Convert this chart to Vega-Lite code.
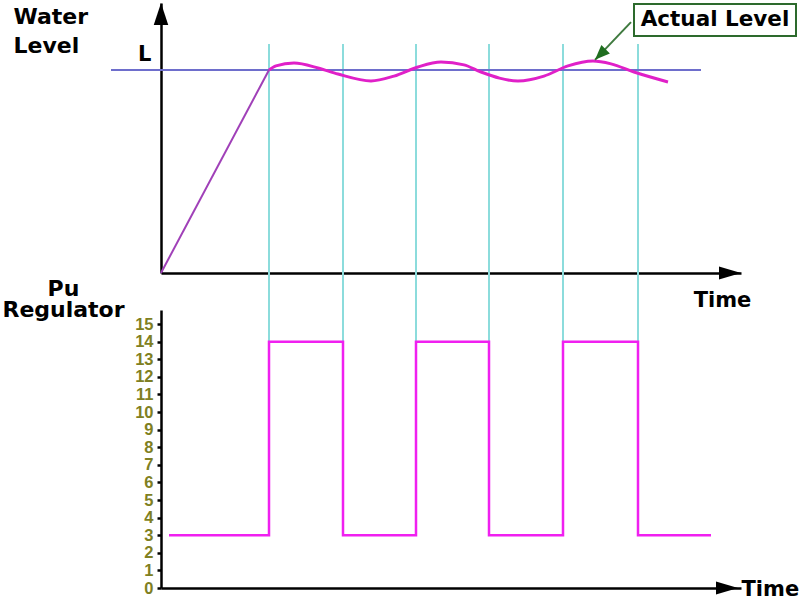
{
  "$schema": "https://vega.github.io/schema/vega-lite/v6.json",
  "autosize": {"type": "pad"},
  "padding": {"left": 1, "top": 3, "right": 0, "bottom": 0},
  "background": "white",
  "config": {"view": {"stroke": null}, "axis": {"grid": false}},
  "datasets": {
    "switches": [{"t": 10.8}, {"t": 18.2}, {"t": 25.5}, {"t": 32.8}, {"t": 40.2}, {"t": 47.7}],
    "setpoint": [{"t1": -5, "t2": 54, "v": 1}],
    "level": [
      {"t": 0, "v": 0, "part": "ramp"}, {"t": 10.8, "v": 1.0, "part": "ramp"},
      {"t": 10.8, "v": 1.0, "part": "wave"}, {"t": 11.5, "v": 1.02, "part": "wave"},
      {"t": 13.3, "v": 1.034, "part": "wave"}, {"t": 15.7, "v": 1.01, "part": "wave"},
      {"t": 17.7, "v": 0.98, "part": "wave"}, {"t": 21.0, "v": 0.946, "part": "wave"},
      {"t": 23.3, "v": 0.97, "part": "wave"}, {"t": 25.7, "v": 1.015, "part": "wave"},
      {"t": 28.0, "v": 1.039, "part": "wave"}, {"t": 30.3, "v": 1.025, "part": "wave"},
      {"t": 32.0, "v": 0.99, "part": "wave"}, {"t": 35.7, "v": 0.946, "part": "wave"},
      {"t": 38.3, "v": 0.97, "part": "wave"}, {"t": 40.7, "v": 1.02, "part": "wave"},
      {"t": 43.2, "v": 1.044, "part": "wave"}, {"t": 45.0, "v": 1.03, "part": "wave"},
      {"t": 47.3, "v": 0.99, "part": "wave"}, {"t": 50.7, "v": 0.941, "part": "wave"}
    ],
    "pump": [
      {"t": 0.8, "v": 3}, {"t": 10.8, "v": 14}, {"t": 18.2, "v": 3}, {"t": 25.5, "v": 14},
      {"t": 32.8, "v": 3}, {"t": 40.2, "v": 14}, {"t": 47.7, "v": 3}, {"t": 55, "v": 3}
    ],
    "topArrows": [{"t": 0, "v": 1.33, "dir": "up"}, {"t": 58, "v": 0, "dir": "right"}],
    "bottomArrows": [{"t": 57.7, "v": 0, "dir": "right"}],
    "callout": [{"t1": 47.3, "t2": 63.5, "v1": 1.167, "v2": 1.325, "tc": 55.4, "vc": 1.246, "label": "Actual Level", "at": 47.0, "av": 1.236, "bt": 43.4, "bv": 1.05}]
  },
  "spacing": 37,
  "bounds": "flush",
  "vconcat": [
    {
      "width": 580,
      "height": 270,
      "layer": [
        {
          "data": {"name": "switches"},
          "mark": {"type": "rule", "color": "#8cdcdc", "strokeWidth": 2},
          "encoding": {
            "x": {"field": "t", "type": "quantitative",
              "scale": {"domain": [0, 58], "nice": false, "zero": false},
              "axis": {"values": [], "domainColor": "black", "domainWidth": 2.5, "ticks": false, "labels": false,
                "title": "Time", "titleFont": "DejaVu Sans", "titleFontSize": 21, "titleFontWeight": "bold", "titleColor": "black",
                "titleAlign": "center", "titleBaseline": "alphabetic", "titleAnchor": "start", "titleX": 561, "titleY": 33}},
            "y": {"datum": 0, "type": "quantitative",
              "scale": {"domain": [0, 1.33], "nice": false},
              "axis": {"values": [1], "labelExpr": "'L'", "ticks": false, "labelFont": "DejaVu Sans", "labelFontSize": 21,
                "labelFontWeight": "bold", "labelColor": "black", "labelPadding": 10, "labelBaseline": "alphabetic", "labelOffset": -9,
                "domainColor": "black", "domainWidth": 2.5,
                "title": ["Water", "Level"], "titleFont": "DejaVu Sans", "titleFontSize": 22, "titleFontWeight": "bold",
                "titleColor": "black", "titleAngle": 0, "titleAlign": "left", "titleBaseline": "alphabetic",
                "titleX": -148, "titleY": 20, "titleLineHeight": 29}},
            "y2": {"datum": 1.128}
          }
        },
        {
          "data": {"name": "setpoint"},
          "mark": {"type": "rule", "color": "#6e6ecc", "strokeWidth": 2},
          "encoding": {
            "x": {"field": "t1", "type": "quantitative"},
            "x2": {"field": "t2"},
            "y": {"field": "v", "type": "quantitative"}
          }
        },
        {
          "data": {"name": "level"},
          "transform": [{"filter": "datum.part == 'ramp'"}],
          "mark": {"type": "line", "color": "#a040b8", "strokeWidth": 2},
          "encoding": {
            "x": {"field": "t", "type": "quantitative"},
            "y": {"field": "v", "type": "quantitative"}
          }
        },
        {
          "data": {"name": "level"},
          "transform": [{"filter": "datum.part == 'wave'"}],
          "mark": {"type": "line", "color": "#e020c8", "strokeWidth": 3, "interpolate": "monotone"},
          "encoding": {
            "x": {"field": "t", "type": "quantitative"},
            "y": {"field": "v", "type": "quantitative"}
          }
        },
        {
          "data": {"name": "topArrows"},
          "mark": {"type": "point", "filled": true, "color": "black", "opacity": 1, "size": 1936},
          "encoding": {
            "x": {"field": "t", "type": "quantitative"},
            "y": {"field": "v", "type": "quantitative"},
            "shape": {"field": "dir", "type": "nominal", "legend": null,
              "scale": {"domain": ["up", "right"], "range": ["M0,0L-0.33,1L0.33,1Z", "M0,0L-1,-0.3L-1,0.3Z"]}}
          }
        },
        {
          "data": {"name": "callout"},
          "mark": {"type": "rect", "fill": "white", "stroke": "#2d6a2d", "strokeWidth": 2},
          "encoding": {
            "x": {"field": "t1", "type": "quantitative"},
            "x2": {"field": "t2"},
            "y": {"field": "v1", "type": "quantitative"},
            "y2": {"field": "v2"}
          }
        },
        {
          "data": {"name": "callout"},
          "mark": {"type": "text", "font": "DejaVu Sans", "fontSize": 21.5, "fontWeight": "bold", "color": "black", "align": "center", "baseline": "middle"},
          "encoding": {
            "x": {"field": "tc", "type": "quantitative"},
            "y": {"field": "vc", "type": "quantitative"},
            "text": {"field": "label"}
          }
        },
        {
          "data": {"name": "callout"},
          "mark": {"type": "rule", "color": "#3f7a3f", "strokeWidth": 2},
          "encoding": {
            "x": {"field": "at", "type": "quantitative"},
            "y": {"field": "av", "type": "quantitative"},
            "x2": {"field": "bt"},
            "y2": {"field": "bv"}
          }
        },
        {
          "data": {"name": "callout"},
          "mark": {"type": "point", "filled": true, "color": "#1f6e1f", "opacity": 1, "size": 900, "shape": "M0,0L-1,-0.4L-1,0.4Z", "angle": 135},
          "encoding": {
            "x": {"field": "bt", "type": "quantitative"},
            "y": {"field": "bv", "type": "quantitative"}
          }
        }
      ]
    },
    {
      "width": 580,
      "height": 278,
      "layer": [
        {
          "data": {"name": "switches"},
          "mark": {"type": "rule", "color": "#8cdcdc", "strokeWidth": 2},
          "encoding": {
            "x": {"field": "t", "type": "quantitative",
              "scale": {"domain": [0, 58], "nice": false, "zero": false},
              "axis": {"values": [], "domainColor": "black", "domainWidth": 2.5, "ticks": false, "labels": false,
                "title": "Time", "titleFont": "DejaVu Sans", "titleFontSize": 21, "titleFontWeight": "bold", "titleColor": "black",
                "titleAlign": "left", "titleBaseline": "alphabetic", "titleAnchor": "start", "titleX": 580, "titleY": 7}},
            "y": {"datum": 3, "type": "quantitative",
              "scale": {"domain": [0, 15.8], "nice": false}},
            "y2": {"datum": 18.1}
          }
        },
        {
          "data": {"name": "pump"},
          "mark": {"type": "line", "color": "#f020f0", "strokeWidth": 2.5, "interpolate": "step-after"},
          "encoding": {
            "x": {"field": "t", "type": "quantitative"},
            "y": {"field": "v", "type": "quantitative",
              "axis": {"values": [0, 1, 2, 3, 4, 5, 6, 7, 8, 9, 10, 11, 12, 13, 14, 15], "tickCount": 16,
                "labelFont": "Liberation Sans", "labelFontSize": 16.5, "labelFontWeight": "bold", "labelColor": "#7f7f22",
                "labelPadding": 4, "tickSize": 4, "tickWidth": 2.5, "tickColor": "black", "labelOverlap": false, "labelBound": false,
                "labelFlush": false,
                "domainColor": "black", "domainWidth": 2.5,
                "title": ["Pu", "Regulator"], "titleFont": "DejaVu Sans", "titleFontSize": 22, "titleFontWeight": "bold",
                "titleColor": "black", "titleAngle": 0, "titleAlign": "center", "titleBaseline": "alphabetic",
                "titleX": -98, "titleY": -15, "titleLineHeight": 21}}
          }
        },
        {
          "data": {"name": "bottomArrows"},
          "mark": {"type": "point", "filled": true, "color": "black", "opacity": 1, "size": 1936, "shape": "M0,0L-1,-0.3L-1,0.3Z"},
          "encoding": {
            "x": {"field": "t", "type": "quantitative"},
            "y": {"field": "v", "type": "quantitative"}
          }
        }
      ]
    }
  ]
}
